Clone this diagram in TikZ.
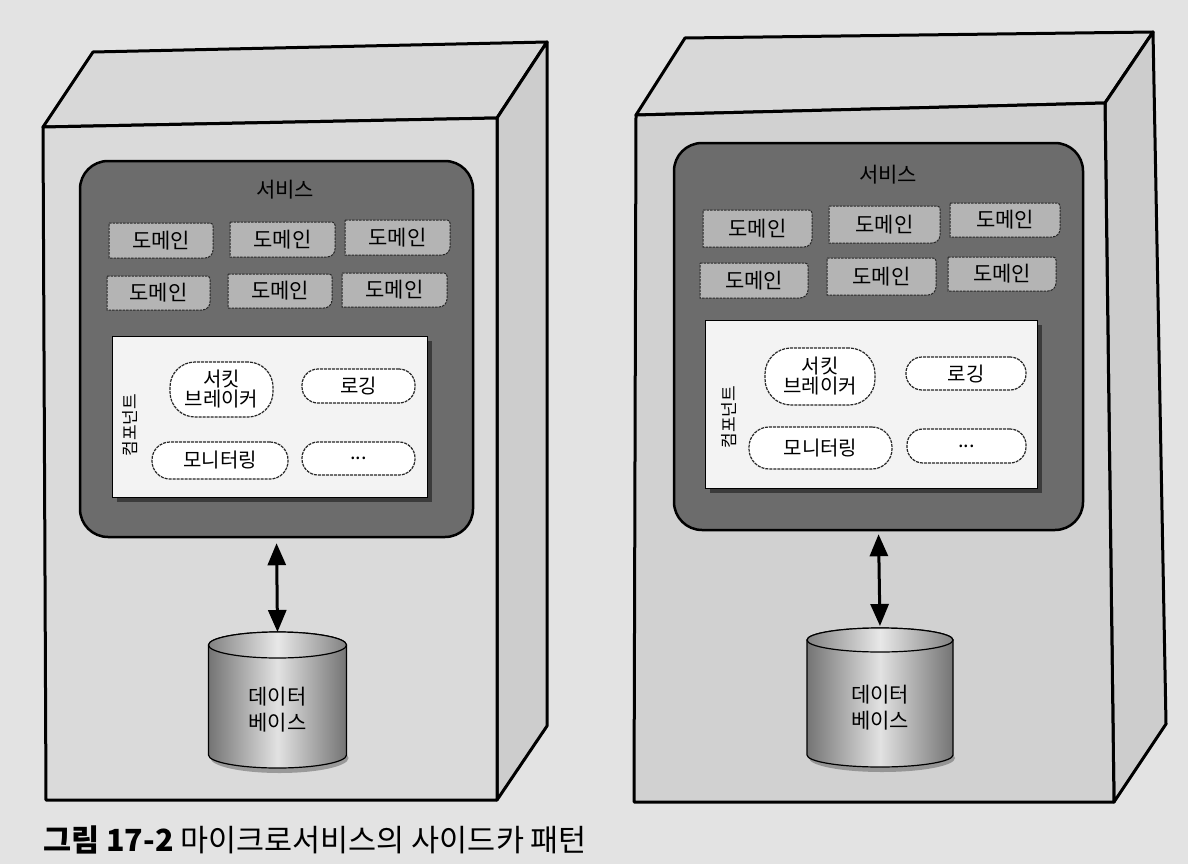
\documentclass[tikz,border=0pt]{standalone}
\usepackage{fontspec}
\setmainfont{Noto Sans CJK KR}
\usetikzlibrary{arrows.meta,shadows}
\definecolor{paper}{HTML}{E3E3E3}
\definecolor{topface}{HTML}{D8D8D8}
\definecolor{sideface}{HTML}{CDCDCD}
\definecolor{frontL}{HTML}{DADADA}
\definecolor{frontR}{HTML}{D1D1D1}
\definecolor{svcgray}{HTML}{6C6C6C}
\definecolor{domgray}{HTML}{B4B4B4}
\definecolor{panelw}{HTML}{F3F3F3}
\definecolor{cyledge}{HTML}{747474}
\definecolor{cylmid}{HTML}{E2E2E2}
\newcommand\dombox[5]{%
  \draw[dom] (#2,#3) -- ({#4-3},#3) arc[start angle=-90,end angle=0,radius=3] -- (#4,{#5-8}) arc[start angle=0,end angle=90,radius=8] -- (#2,#5) -- cycle;
  \node[domtext] (#1) at ({(#2+#4)/2},{(#3+#5)/2}) {도메인};
}
\newcommand\dbcyl[6]{% name, cx, rx, topcy, botcy, ry
  \fill[black!70,opacity=0.45] ({#2+2},{#5+3}) ellipse [x radius={#3}, y radius={#6+2}];
  \path[draw=black,line width=1.2pt,left color=cyledge,right color=cyledge,middle color=cylmid]
    ({#2-#3},#4) -- ({#2-#3},#5) arc[start angle=180,end angle=0,x radius=#3,y radius=#6]
    -- ({#2+#3},#4) arc[start angle=0,end angle=-180,x radius=#3,y radius=#6] -- cycle;
  \path[draw=black,line width=1.2pt,left color=cyledge!90,right color=cyledge!90,middle color=cylmid!80!white]
    (#2,#4) ellipse [x radius=#3, y radius=#6];
  \coordinate (#1top) at (#2,{#4-#6});
}
\begin{document}
\begin{tikzpicture}[x=1pt,y=-1pt,
  face/.style={draw=black,line width=3pt,line join=round},
  svc/.style={draw=black,line width=2.5pt,fill=svcgray,rounded corners=28pt,inner sep=0pt},
  svctext/.style={font=\fontsize{21}{24}\selectfont},
  dom/.style={draw=black!85,line width=1pt,dash pattern=on 2.5pt off 1pt,fill=domgray},
  domtext/.style={font=\fontsize{21}{24}\selectfont,inner sep=0pt},
  panel/.style={draw=black,line width=1pt,fill=panelw,inner sep=0pt,
    drop shadow={shadow xshift=5pt,shadow yshift=-5pt,fill=black!80,opacity=0.85}},
  comptext/.style={font=\fontsize{17}{19}\selectfont,rotate=90,inner sep=0pt},
  pill/.style={draw=black!85,line width=1.2pt,dash pattern=on 3pt off 1pt,fill=white,
    inner sep=0pt,align=center,font=\fontsize{20}{23}\selectfont},
  dbarrow/.style={line width=3pt,{Triangle[width=18pt,length=22pt]}-{Triangle[width=18pt,length=22pt]}},
  dbtext/.style={align=center,font=\fontsize{21}{26}\selectfont,inner sep=0pt}
]
\useasboundingbox (0,0) rectangle (1188,864);
\fill[paper] (0,0) rectangle (1188,864);

% ---------- left box ----------
\draw[face,fill=topface] (43,127) -- (93,52) -- (547,42) -- (497,118) -- cycle;
\draw[face,fill=sideface] (497,118) -- (547,42) -- (547,726) -- (497,800) -- cycle;
\draw[face,fill=frontL] (43,127) -- (497,118) -- (497,800) -- (46,800) -- cycle;

\node[svc,minimum width=393pt,minimum height=376pt] (svcL) at (276.5,349) {};
\node[svctext] (svcLt) at (285,190) {서비스};
\dombox{dL1}{109}{223}{213}{258}
\dombox{dL2}{230}{222}{335}{257}
\dombox{dL3}{345}{220}{450}{255}
\dombox{dL4}{107}{276}{210}{310}
\dombox{dL5}{228}{274}{332}{308}
\dombox{dL6}{342}{273}{447}{307}
\node[panel,minimum width=315pt,minimum height=161pt] (pL) at (269.5,416.5) {};
\node[comptext] (cL) at (130,425) {컴포넌트};
\node[pill,minimum width=103pt,minimum height=55pt,rounded corners=25pt] (cbL) at (221.5,389.5) {서킷\\[-3pt]브레이커};
\node[pill,minimum width=113pt,minimum height=34pt,rounded corners=16pt] (lgL) at (358.5,386) {로깅};
\node[pill,minimum width=136pt,minimum height=37pt,rounded corners=18pt] (mnL) at (220,460.5) {모니터링};
\node[pill,minimum width=113pt,minimum height=33pt,rounded corners=16pt] (etL) at (358.5,458.5) {...};

\dbcyl{dbL}{277.5}{69}{645}{755}{13}
\node[dbtext] (dbLt) at (277.5,710) {데이터\\베이스};
\draw[dbarrow,shorten <=5pt,shorten >=0pt] (svcL.south) -- (dbLtop);

% ---------- right box ----------
\draw[face,fill=topface] (636,115) -- (685,38) -- (1153,32) -- (1105,103) -- cycle;
\draw[face,fill=sideface] (1105,103) -- (1153,32) -- (1166,724) -- (1114,802) -- cycle;
\draw[face,fill=frontR] (636,115) -- (1105,103) -- (1114,802) -- (634,802) -- cycle;

\node[svc,minimum width=409pt,minimum height=387pt] (svcR) at (878.5,336.5) {};
\node[svctext] (svcRt) at (888,175) {서비스};
\dombox{dR1}{703}{210}{812}{247}
\dombox{dR2}{829}{206}{940}{243}
\dombox{dR3}{950}{203}{1060}{237}
\dombox{dR4}{700}{263}{808}{298}
\dombox{dR5}{827}{258}{936}{295}
\dombox{dR6}{948}{257}{1056}{291}
\node[panel,minimum width=332pt,minimum height=168pt] (pR) at (871,404) {};
\node[comptext] (cR) at (729,417) {컴포넌트};
\node[pill,minimum width=110pt,minimum height=57pt,rounded corners=26pt] (cbR) at (820,376.5) {서킷\\[-3pt]브레이커};
\node[pill,minimum width=120pt,minimum height=33pt,rounded corners=16pt] (lgR) at (966,373.5) {로깅};
\node[pill,minimum width=143pt,minimum height=42pt,rounded corners=20pt] (mnR) at (820.5,448) {모니터링};
\node[pill,minimum width=119pt,minimum height=34pt,rounded corners=16pt] (etR) at (966.5,446) {...};

\dbcyl{dbR}{880}{73}{640}{755}{12}
\node[dbtext] (dbRt) at (880,708) {데이터\\베이스};
\draw[dbarrow,shorten <=3pt,shorten >=2pt] (svcR.south) -- (dbRtop);

% ---------- caption ----------
\node[anchor=west,inner sep=0pt,font=\fontsize{30.5}{34}\selectfont] (cap) at (43,840)
  {{\bfseries 그림 17-2} 마이크로서비스의 사이드카 패턴};
\end{tikzpicture}
\end{document}
